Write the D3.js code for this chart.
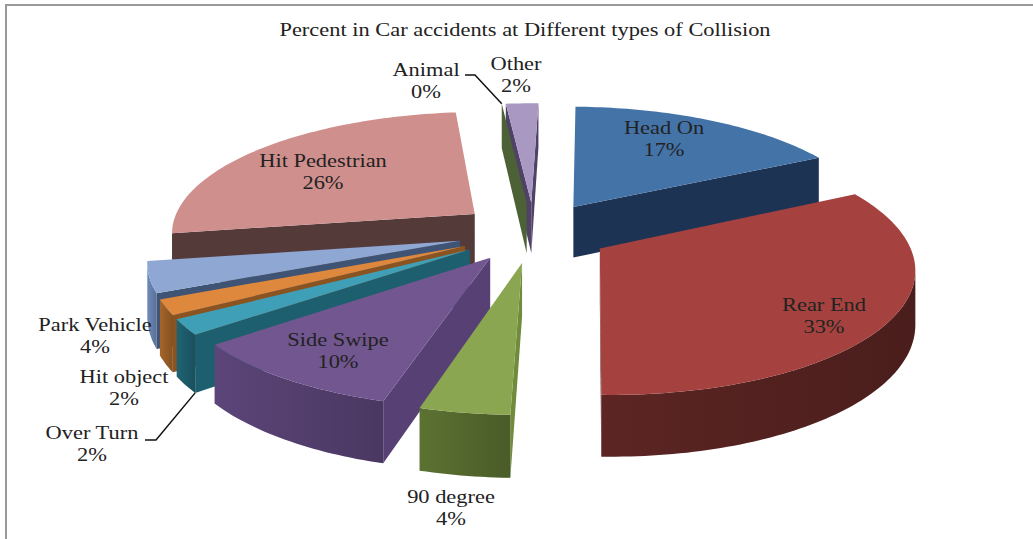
<!DOCTYPE html>
<html>
<head>
<meta charset="utf-8">
<script src="https://cdn.jsdelivr.net/npm/d3@7"></script>
<style>
  html, body { margin: 0; padding: 0; background: #fff; }
  svg { display: block; }
  text { font-family: "Liberation Serif", serif; fill: #222; }
</style>
</head>
<body>
<svg id="chart" width="1033" height="539"></svg>
<script>
// Collision types, clockwise from twelve o'clock, and their share in percent
const categories = ["Head On", "Rear End", "90 degree", "Side Swipe", "Over Turn",
                    "Hit object", "Park Vehicle", "Hit Pedestrian", "Animal", "Other"];
const percents = [17, 33, 4, 10, 2, 2, 4, 26, 0, 2];
const chartTitle = "Percent in Car accidents at Different types of Collision";

// Face colours of each wedge
const topColors  = ["#4473a8", "#a5423f", "#8aa651", "#71568f", "#3f9fb7", "#dd883c", "#8ea8d3", "#cf8f8d", "#5a7040", "#a898c2"];
const rimColors  = ["#20375a", "#5c2523", "#5c7232", "#5c4579", "#1f6474", "#a5652a", "#6f8bbb", "#553a3a", "#4c6135", "#4f4266"];
const wallColors = ["#1d3354", "#5c2523", "#6f8b3b", "#574174", "#1d5f6e", "#8a531f", "#3f5375", "#553a3a", "#4c6135", "#4f4266"];

// Label placement: text centre and first baseline
const labelSpots = new Map([
  ["Head On", [664, 134]], ["Rear End", [824, 311]], ["90 degree", [451, 503]],
  ["Side Swipe", [338, 346]], ["Over Turn", [92, 439]], ["Hit object", [124, 383]],
  ["Park Vehicle", [95, 331]], ["Hit Pedestrian", [323, 167]], ["Animal", [426, 76]],
  ["Other", [516, 70]]
]);

// Camera and pie geometry
const cx = 534, cy = 232, radius = 305, depthRadius = 121, thickness = 52;
const perspective = 0.14, explode = 0.25, rotation = 1.5 * Math.PI / 180;
// The type is set wide, so glyphs are stretched horizontally
const textStretch = 1.18;

const svg = d3.select("#chart");
const color = d3.scaleOrdinal(categories, topColors);
const rim = d3.scaleOrdinal(categories, rimColors);
const wall = d3.scaleOrdinal(categories, wallColors);
const format = d3.format(".0%");
const total = d3.sum(percents);

const wedges = d3.pie().sort(null).value(d => d.value)
  .startAngle(rotation).endAngle(rotation + 2 * Math.PI)(
    categories.map((name, i) => ({ name, value: percents[i] })));

// Ground-plane point (x right, z toward the viewer) to screen, with drop below the top face
function project(x, z, drop = 0) {
  const p = 1 / (1 - perspective * z);
  return [cx + radius * x * p, cy + depthRadius * z * p + thickness * p * drop];
}

const line = d3.line();
// Positive when the outline runs clockwise on a y-down screen
const areaOf = pts => d3.polygonArea(pts);

function wedgeGeometry(w) {
  const mid = (w.startAngle + w.endAngle) / 2;
  const ox = explode * Math.sin(mid), oz = -explode * Math.cos(mid);
  const onRim = (a, drop) => project(ox + Math.sin(a), oz - Math.cos(a), drop);
  const steps = Math.max(1, Math.ceil((w.endAngle - w.startAngle) / 0.02));
  const angles = d3.range(steps + 1).map(i => w.startAngle + (w.endAngle - w.startAngle) * i / steps);
  return { mid, ox, oz, onRim, angles, apex: d => project(ox, oz, d) };
}

// Paint back to front so nearer wedges overlap farther ones
const ordered = wedges.map(w => ({ w, g: wedgeGeometry(w) }))
  .sort((a, b) => (a.g.oz - Math.cos(a.g.mid) * 0.5) - (b.g.oz - Math.cos(b.g.mid) * 0.5));

const defs = svg.append("defs");
const gradient = defs.append("linearGradient").attr("id", "rimShade");
gradient.append("stop").attr("offset", 0).attr("stop-color", "#000").attr("stop-opacity", 0);
gradient.append("stop").attr("offset", 1).attr("stop-color", "#000").attr("stop-opacity", 0.2);

// Chart frame
svg.append("path").attr("d", "M6,539V5H1033").attr("fill", "none").attr("stroke", "#999").attr("stroke-width", 2);

svg.append("text").attr("text-anchor", "middle")
  .attr("transform", `translate(525,36) scale(${textStretch},1)`)
  .attr("font-size", 19).text(chartTitle);

const pieGroup = svg.append("g");
ordered.forEach(({ w, g }) => {
  const name = w.data.name;
  const slice = pieGroup.append("g").attr("class", "slice");
  const quad = pts => line(pts) + "Z";

  const startWall = [g.apex(0), g.onRim(w.startAngle, 0), g.onRim(w.startAngle, 1), g.apex(1)];
  const endWall = [g.apex(0), g.onRim(w.endAngle, 0), g.onRim(w.endAngle, 1), g.apex(1)];
  if (areaOf(startWall) > 0) slice.append("path").attr("d", quad(startWall)).attr("fill", wall(name));
  if (areaOf(endWall) < 0) slice.append("path").attr("d", quad(endWall)).attr("fill", wall(name));

  // Outer wall: only the stretch of arc that faces the camera
  const facing = g.angles.slice(1).map((a, i) => {
    const b = g.angles[i];
    return areaOf([g.onRim(b, 0), g.onRim(a, 0), g.onRim(a, 1), g.onRim(b, 1)]) > 0 ? [b, a] : null;
  }).filter(Boolean);
  if (facing.length) {
    const run = [facing[0][0], ...facing.map(f => f[1])];
    const outline = [...run.map(a => g.onRim(a, 0)), ...run.slice().reverse().map(a => g.onRim(a, 1))];
    const d = quad(outline);
    slice.append("path").attr("d", d).attr("fill", rim(name));
    slice.append("path").attr("d", d).attr("fill", "url(#rimShade)");
  }

  const top = [g.apex(0), ...g.angles.map(a => g.onRim(a, 0))];
  slice.append("path").attr("d", quad(top)).attr("fill", color(name));
});

// Leader lines run from the label to the rim of their wedge
function leader(name, start, elbow, at, drop) {
  const item = ordered.find(o => o.w.data.name === name);
  const tip = item.g.onRim(at(item.w), drop);
  svg.append("path").attr("d", line([start, elbow, tip]))
    .attr("fill", "none").attr("stroke", "#111").attr("stroke-width", 1.5);
}
leader("Over Turn", [145, 440], [156, 440], w => w.startAngle, 1);
leader("Animal", [465, 75], [475, 75], w => w.startAngle, 0);

// Two-line labels: name, then rounded share
const labels = svg.append("g").selectAll("text").data(wedges).join("text")
  .attr("text-anchor", "middle").attr("font-size", 19)
  .attr("transform", d => {
    const [x, y] = labelSpots.get(d.data.name);
    return `translate(${x},${y}) scale(${textStretch},1)`;
  });
labels.append("tspan").attr("x", 0).attr("y", 0).text(d => d.data.name);
labels.append("tspan").attr("x", 0).attr("y", 22).text(d => format(d.value / total));
</script>
</body>
</html>
